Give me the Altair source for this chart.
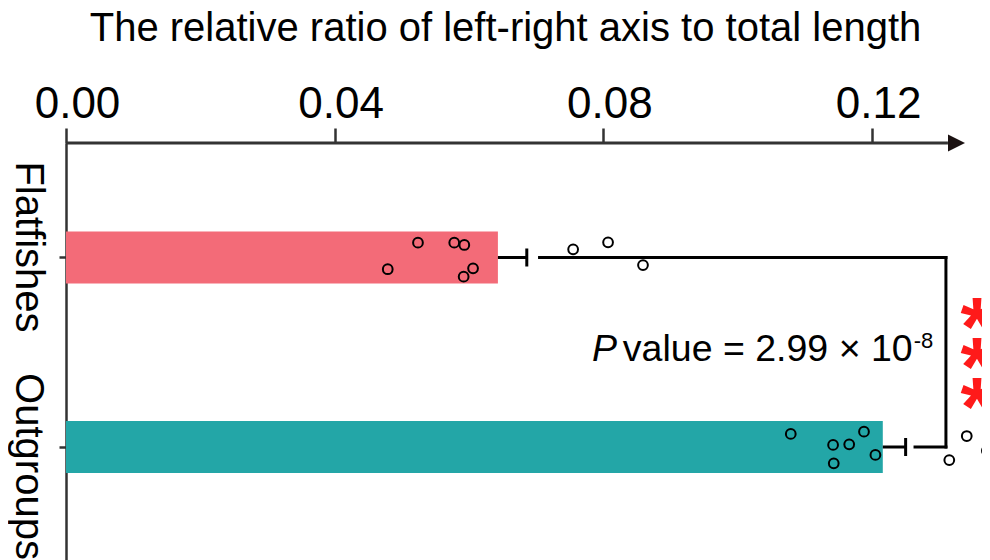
import altair as alt
import pandas as pd

# ---------------- data ----------------
groups = ["Flatfishes", "Outgroups"]
group_pos = [1, 2]
means = [0.0643, 0.1216]
errors = [0.0043, 0.0034]
colors = ["#F36B78", "#23A6A7"]

flat_values = [0.0524, 0.0578, 0.0593, 0.0479, 0.0606, 0.0592, 0.0755, 0.0807, 0.0859]
flat_jitter = [-0.078, -0.078, -0.066, 0.062, 0.057, 0.101, -0.043, -0.080, 0.040]
out_values = [0.1079, 0.1142, 0.1166, 0.1188, 0.1205, 0.1143, 0.1315, 0.1341, 0.1371]
out_jitter = [-0.069, -0.011, -0.014, -0.081, 0.042, 0.086, 0.069, -0.058, 0.020]

x_ticks = [0.0, 0.04, 0.08, 0.12]
x_domain = [0.0, 0.13637]
y_domain = [0.3958, 2.5963]

# significance bracket
bracket_start = [0.0705, 0.1264]
bracket_x = 0.1310
# axis arrow
arrow_line_end = 0.1313
arrow_tip_x = 0.13257

p_text_x = [0.0783, 0.0829, 0.1262]
p_text_y = [1.546, 1.546, 1.478]
p_text = ["P", "value = 2.99 × 10", "-8"]
star_x = 0.1356
star_y = 1.303
star_text = "*\n*\n*"

FONT = "Liberation Sans, Arial, Helvetica, sans-serif"
AXIS_COLOR = "#333333"

# ---------------- tables ----------------
bars = pd.DataFrame({"group": groups, "pos": group_pos, "mean": means, "err": errors})
bars["hi"] = bars["mean"] + bars["err"]

pts = pd.DataFrame({
    "group": [groups[0]] * len(flat_values) + [groups[1]] * len(out_values),
    "value": flat_values + out_values,
    "jit": flat_jitter + out_jitter,
    "pos": [group_pos[0]] * len(flat_values) + [group_pos[1]] * len(out_values),
})
pts["ypos"] = pts["pos"] + pts["jit"]

bracket = pd.DataFrame({
    "x": bracket_start + [bracket_x],
    "x2": [bracket_x, bracket_x, bracket_x],
    "y": [group_pos[0], group_pos[1], group_pos[0]],
    "y2": [group_pos[0], group_pos[1], group_pos[1]],
})

axis_line = pd.DataFrame({"x": [x_domain[0]], "x2": [arrow_line_end], "y": [y_domain[0]]})
arrow = pd.DataFrame({"x": [arrow_tip_x], "y": [y_domain[0]]})

ptxt = pd.DataFrame({"x": p_text_x, "y": p_text_y, "t": p_text})
stars = pd.DataFrame({"x": [star_x], "y": [star_y], "t": [star_text]})

xscale = alt.Scale(domain=x_domain, nice=False, zero=False, padding=0)
yscale = alt.Scale(domain=y_domain, nice=False, zero=False, reverse=True, padding=0)

xaxis = alt.Axis(
    orient="top", values=x_ticks, format=".2f", grid=False, domain=False,
    labelFont=FONT, labelFontSize=44, labelColor="black", labelFlush=False,
    labelPadding=2,
    labelOffset={"condition": {"test": "datum.value == 0", "value": 11}, "value": 6},
    tickSize=15, tickWidth=2.5, tickColor=AXIS_COLOR,
    title="The relative ratio of left-right axis to total length",
    titleFont=FONT, titleFontSize=40, titleFontWeight="normal", titleColor="black",
    titleX=439, titleY=-103, titleBaseline="alphabetic", titleAlign="center",
)
yaxis = alt.Axis(
    orient="left", values=group_pos, grid=False,
    labelExpr="datum.value == 1 ? 'Flatfishes' : 'Outgroups'",
    labelAngle=90, labelAlign="center", labelBaseline="top", labelLimit=400,
    labelOffset={"condition": {"test": "datum.value == 1", "value": -11}, "value": 19},
    labelFont=FONT, labelFontSize=40, labelColor="black", labelPadding=12,
    tickSize=7, tickWidth=2.5, tickColor=AXIS_COLOR,
    domainWidth=2.5, domainColor=AXIS_COLOR, title=None,
)

bar_layer = alt.Chart(bars).mark_bar(orient="horizontal", size=52).encode(
    x=alt.X("mean:Q", scale=xscale, axis=xaxis),
    y=alt.Y("pos:Q", scale=yscale, axis=yaxis),
    color=alt.Color("group:N", scale=alt.Scale(domain=groups, range=colors), legend=None),
)

err_layer = alt.Chart(bars).mark_rule(color="black", strokeWidth=3).encode(
    x="mean:Q", x2="hi:Q", y="pos:Q"
)
cap_layer = alt.Chart(bars).mark_tick(orient="vertical", size=18, thickness=3, color="black", opacity=1).encode(
    x="hi:Q", y="pos:Q"
)

pt_layer = alt.Chart(pts).mark_point(
    shape="circle", filled=False, size=95, stroke="black", strokeWidth=2, opacity=1
).encode(x="value:Q", y="ypos:Q")

br_layer = alt.Chart(bracket).mark_rule(color="black", strokeWidth=3, strokeCap="square").encode(
    x="x:Q", x2="x2:Q", y="y:Q", y2="y2:Q"
)

axline_layer = alt.Chart(axis_line).mark_rule(color=AXIS_COLOR, strokeWidth=3).encode(
    x="x:Q", x2="x2:Q", y="y:Q"
)
arrow_layer = alt.Chart(arrow).mark_point(
    shape="M-1,-1L1,0L-1,1Z", filled=True, size=289, color="#1a1111", opacity=1
).encode(x="x:Q", y="y:Q")

p_italic = alt.Chart(ptxt.iloc[[0]]).mark_text(
    font=FONT, fontSize=37.5, fontStyle="italic", align="left", baseline="alphabetic", color="black"
).encode(x="x:Q", y="y:Q", text="t:N")
p_rest = alt.Chart(ptxt.iloc[[1]]).mark_text(
    font=FONT, fontSize=37.5, align="left", baseline="alphabetic", color="black"
).encode(x="x:Q", y="y:Q", text="t:N")
p_sup = alt.Chart(ptxt.iloc[[2]]).mark_text(
    font=FONT, fontSize=22, align="left", baseline="alphabetic", color="black"
).encode(x="x:Q", y="y:Q", text="t:N")

star_layer = alt.Chart(stars).mark_text(
    font=FONT, fontSize=84, fontWeight="bold", align="center", baseline="middle",
    color="#FF1A1A", dy=16, lineBreak="\n", lineHeight=40
).encode(x="x:Q", y="y:Q", text="t:N")

chart = alt.layer(
    bar_layer, err_layer, cap_layer, br_layer, pt_layer,
    axline_layer, arrow_layer, p_italic, p_rest, p_sup, star_layer,
).properties(
    width=916, height=417,
    autosize=alt.AutoSizeParams(type="none"),
    padding={"left": 58, "top": 135, "right": 0, "bottom": 0},
).configure_view(stroke=None)

chart.save("out.html", embed_options={"renderer": "svg", "actions": False})
